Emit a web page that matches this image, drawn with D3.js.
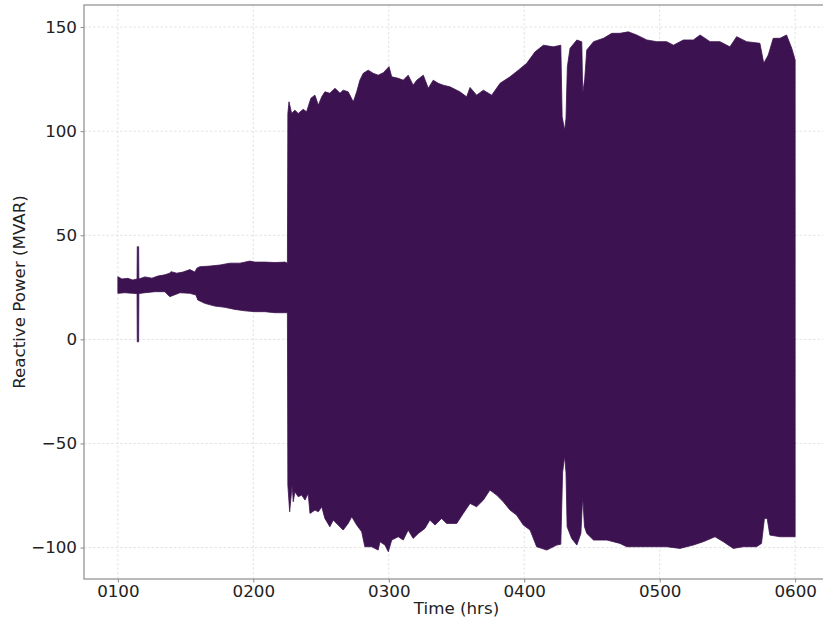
<!DOCTYPE html>
<html><head><meta charset="utf-8">
<script src="https://cdn.jsdelivr.net/npm/d3@7"></script>
<style>body{margin:0;background:#fff} svg{display:block} text{font-family:"DejaVu Sans",sans-serif}</style>
</head><body><svg id="c" width="823" height="623"></svg>
<script>
// Envelope of the oscillating reactive power signal, time in minutes after midnight
const upperTime = [60,61.8,64.4,66.6,68.5,68.6,69.2,69.3,72,75.1,77.7,80.8,83,83.5,86.1,88.8,91.9,94.1,95,96.3,100.8,105.2,109.6,114.1,118.5,120.7,125.1,129.6,134,135.1,
  135.3,135.8,137,138.4,139.9,142.1,143.6,145.5,147.3,148.8,150.3,151.7,153.9,156.2,158.4,159.8,162,164.3,165.8,167.2,168.7,170.9,173.1,175.3,177.6,180.1,181.3,184.2,186.4,188.6,190.8,192.4,195.3,197.5,199.7,201.9,204.1,
  207.1,211.5,214.5,216,218.9,221.9,225.6,229.3,233.7,237.4,241.1,244.8,248.5,252.9,256.2,
  256.8,257.9,258.5,259.1,260.3,263.3,265.5,265.9,266.8,267.7,270.7,275.1,278.8,282.4,286.1,289.8,294.3,298.7,303.1,306.1,310.5,314.9,317.9,322.3,326.7,331.1,334.1,338.5,344.4,346.1,348.1,350.3,353.3,356.2,358.5,360];
const upperValue = [30.1,29,29.3,28.5,29,44.5,44.5,29,30,29.4,30.4,31,31.8,32.5,31.8,32.3,33.5,32.3,34.2,34.9,35.2,35.7,36.6,36.6,37.6,37.1,37.1,36.9,37.1,36.6,
  108.5,114.1,108.5,110.1,108.5,110.5,109.3,115.8,117.3,112.5,116.5,118.9,118.2,120.6,118.2,119.7,118.9,114.1,118.9,124.5,127.8,129.3,127.8,126.9,128.1,131,126.1,125.4,124.5,126.9,122.1,124.5,126.9,120.6,124.5,123,122.1,
  121.3,118.9,116.5,121,117.3,119.7,117.3,123,126.1,129.3,132.6,138.1,141.3,140.5,141.3,
  106.9,100.5,106,131,139.8,143.8,142.9,118.2,125,139,143,144.6,147,147,147.7,146.2,143.8,143,143,141.3,143.8,143.8,146.2,143,143,140.5,145.4,143,142.2,132.6,136.6,144.6,144.6,146.2,139.8,134.2];
const lowerTime = [60,63.1,66.6,68.5,68.6,69.2,69.3,72,76.4,80.8,83,87.5,91.9,94.6,95.4,98.5,102.9,107.4,111.8,116.3,120.7,125.1,129.6,134,135.1,
  135.3,136.1,137.2,137.7,138.4,139.9,141.4,142.9,144.3,145.1,147.3,148.8,150.3,151.7,153.9,155.4,157.6,159.8,162,163.6,165.8,168,169.4,172.4,175.3,176.1,178.3,179.8,181.3,184.2,186.4,188.6,190.8,193.1,196,198.2,200.5,203.4,
  205.6,210.1,213,216,218.9,221.9,224.8,227.8,230.7,233.7,236.6,239.6,242.6,245.5,250,254.4,256.2,
  257,257.9,258.5,259,261,263.3,265.1,265.9,266.7,267.7,270.7,276.6,282.4,285.4,291.3,297.2,303.1,309,314.9,319.3,324.5,328.2,332.6,337,342.9,345.1,346.4,347.6,348.8,353.3,360];
const lowerValue = [22.1,22.4,22.1,22,-1.2,-1.2,22,22.4,22.9,22.9,20.5,22.4,22.1,21.3,18.9,17.3,16,15.4,14.4,13.7,13.3,13.3,12.8,12.8,12.8,
  -70,-82.8,-70,-78,-73.2,-75.6,-74.8,-77.2,-74,-83.6,-82,-82.8,-80.4,-86,-90,-86.8,-89.2,-91.6,-88.4,-85.2,-89.2,-92.4,-99.6,-99.6,-101.2,-97.2,-98.8,-102,-96.4,-94.8,-96.4,-91.6,-95.6,-93.2,-90.8,-86.8,-89.2,-86,
  -88.4,-88.4,-83.6,-78.8,-80.4,-77.2,-72.4,-74.8,-78,-82,-84.4,-89.2,-91.6,-99.6,-101.2,-98.8,-98.4,
  -64,-56,-64,-90,-95.6,-98.8,-93.2,-75.6,-90,-93.2,-96.4,-96.4,-98,-99.6,-99.6,-99.6,-99.6,-100.4,-98.8,-97.2,-94.8,-97.2,-100.4,-99.6,-99.6,-98,-86,-86,-94,-94.8,-94.8];
const xTicks = [60,120,180,240,300,360];
const xTickLabels = ["0100","0200","0300","0400","0500","0600"];
const yTicks = [-100,-50,0,50,100,150];
const yTickLabels = ["\u2212100","\u221250","0","50","100","150"];

const svg = d3.select("#c");
const L = 84, R = 829, T = 5, B = 579;
const FS = 16.7;
const x = d3.scaleLinear().domain([45, 375]).range([L, R]);
const y = d3.scaleLinear().domain([-115.1, 160.6]).range([B, T]);

svg.append("clipPath").attr("id","clip").append("rect").attr("x",L).attr("y",T).attr("width",R-L).attr("height",B-T);

// grid
const grid = svg.append("g").attr("stroke","#dcdcdc").attr("stroke-width",0.8).attr("stroke-dasharray","2.5,2");
grid.selectAll("line.v").data(xTicks).join("line").attr("x1",d=>x(d)).attr("x2",d=>x(d)).attr("y1",T).attr("y2",B);
grid.selectAll("line.h").data(yTicks).join("line").attr("x1",L).attr("x2",R).attr("y1",d=>y(d)).attr("y2",d=>y(d));

// envelope polygon
const pts = upperTime.map((t,i)=>[t,upperValue[i]]).concat(lowerTime.map((t,i)=>[t,lowerValue[i]]).reverse());
const line = d3.line().x(d=>x(d[0])).y(d=>y(d[1]));
svg.append("path").attr("clip-path","url(#clip)").attr("d", line(pts)+"Z")
  .attr("fill","#3c1251").attr("stroke","#3c1251").attr("stroke-width",0.8).attr("stroke-linejoin","miter");

// axes
const xa = svg.append("g").attr("transform",`translate(0,${B})`)
  .call(d3.axisBottom(x).tickValues(xTicks).tickFormat((d,i)=>xTickLabels[i]).tickSizeInner(3.5).tickSizeOuter(0).tickPadding(3));
const ya = svg.append("g").attr("transform",`translate(${L},0)`)
  .call(d3.axisLeft(y).tickValues(yTicks).tickFormat((d,i)=>yTickLabels[i]).tickSizeInner(3.5).tickSizeOuter(0).tickPadding(3.5));
[xa,ya].forEach(a=>{
  a.select(".domain").remove();
  a.selectAll("line").attr("stroke","#8c8c8c");
  a.selectAll("text").attr("font-size",FS).attr("fill","#222").attr("font-family","DejaVu Sans");
});

// spines
svg.append("rect").attr("x",L).attr("y",T).attr("width",R-L).attr("height",B-T)
  .attr("fill","none").attr("stroke","#8c8c8c").attr("stroke-width",1.2);

svg.append("text").attr("x",(L+R)/2).attr("y",614).attr("text-anchor","middle")
  .attr("font-size",FS).attr("fill","#222").text("Time (hrs)");
svg.append("text").attr("transform",`translate(25,${(T+B)/2}) rotate(-90)`).attr("text-anchor","middle")
  .attr("font-size",FS).attr("fill","#222").text("Reactive Power (MVAR)");
</script></body></html>
